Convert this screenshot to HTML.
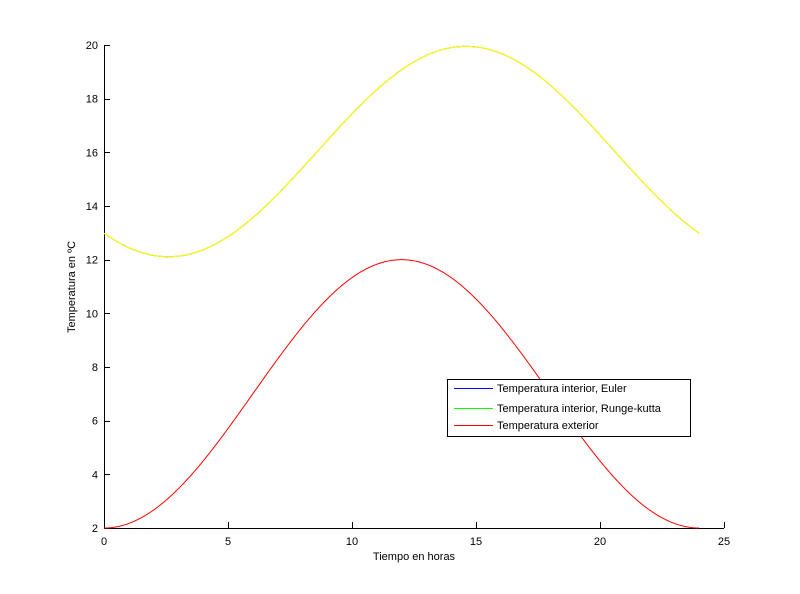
<!DOCTYPE html>
<html><head><meta charset="utf-8"><style>body{margin:0;background:#fff}svg{display:block}text{font-family:"Liberation Sans",sans-serif;font-size:11px;fill:#000}</style></head>
<body>
<svg id="s" width="800" height="594" viewBox="0 0 800 594">
<rect width="800" height="594" fill="#fff"/>
<g id="ax" stroke="#000" stroke-width="1" fill="none" shape-rendering="crispEdges">
<line x1="104" y1="528.5" x2="724" y2="528.5"/>
<line x1="104.5" y1="45" x2="104.5" y2="529"/>
</g>
<g id="ticks" stroke="#000" stroke-width="1" shape-rendering="crispEdges"></g>
<g id="labels"></g>
<path id="red" fill="none" stroke="#f00" stroke-width="1"/>
<path id="blue" fill="none" stroke="#00f" stroke-width="1"/>
<path id="yel" fill="none" stroke="#ff0" stroke-width="1.2"/>
<text x="414" y="560" text-anchor="middle">Tiempo en horas</text>
<text transform="translate(75,287) rotate(-90)" text-anchor="middle">Temperatura en ºC</text>
<rect x="447.5" y="379.5" width="243" height="57" fill="#fff" stroke="#000" shape-rendering="crispEdges"/>
<line x1="454" y1="388.5" x2="493" y2="388.5" stroke="#00f"/>
<line x1="454" y1="408.5" x2="493" y2="408.5" stroke="#0f0"/>
<line x1="454" y1="425.5" x2="493" y2="425.5" stroke="#f00"/>
<text x="497" y="392">Temperatura interior, Euler</text>
<text x="497" y="412">Temperatura interior, Runge-kutta</text>
<text x="497" y="429">Temperatura exterior</text>
</svg>
<script>
var X=function(t){return 104+t*24.8},Y=function(v){return 528-(v-2)*26.833};
var tk=document.getElementById('ticks'),lb=document.getElementById('labels'),ns='http://www.w3.org/2000/svg';
function el(p,n,a,txt){var e=document.createElementNS(ns,n);for(var k in a)e.setAttribute(k,a[k]);if(txt!=null)e.textContent=txt;p.appendChild(e);}
for(var i=0;i<=25;i+=5){var x=Math.round(X(i))+0.5;el(tk,'line',{x1:x,y1:528,x2:x,y2:522});el(lb,'text',{x:X(i),y:545,'text-anchor':'middle'},i);}
for(var v=2;v<=20;v+=2){var y=Math.round(Y(v))+0.5;el(tk,'line',{x1:104,y1:y,x2:110,y2:y});el(lb,'text',{x:98,y:Y(v)+4,'text-anchor':'end'},v);}
var r='',b='';
for(var j=0;j<=480;j++){var t=j*24/480;
r+=(j?'L':'M')+X(t).toFixed(2)+' '+Y(7-5*Math.cos(Math.PI*t/12)).toFixed(2);
b+=(j?'L':'M')+X(t).toFixed(2)+' '+Y(16.03+3.92*Math.cos(Math.PI*(t-14.6)/12)).toFixed(2);}
document.getElementById('red').setAttribute('d',r);
document.getElementById('blue').setAttribute('d',b);
document.getElementById('yel').setAttribute('d',b);
</script>
</body></html>
